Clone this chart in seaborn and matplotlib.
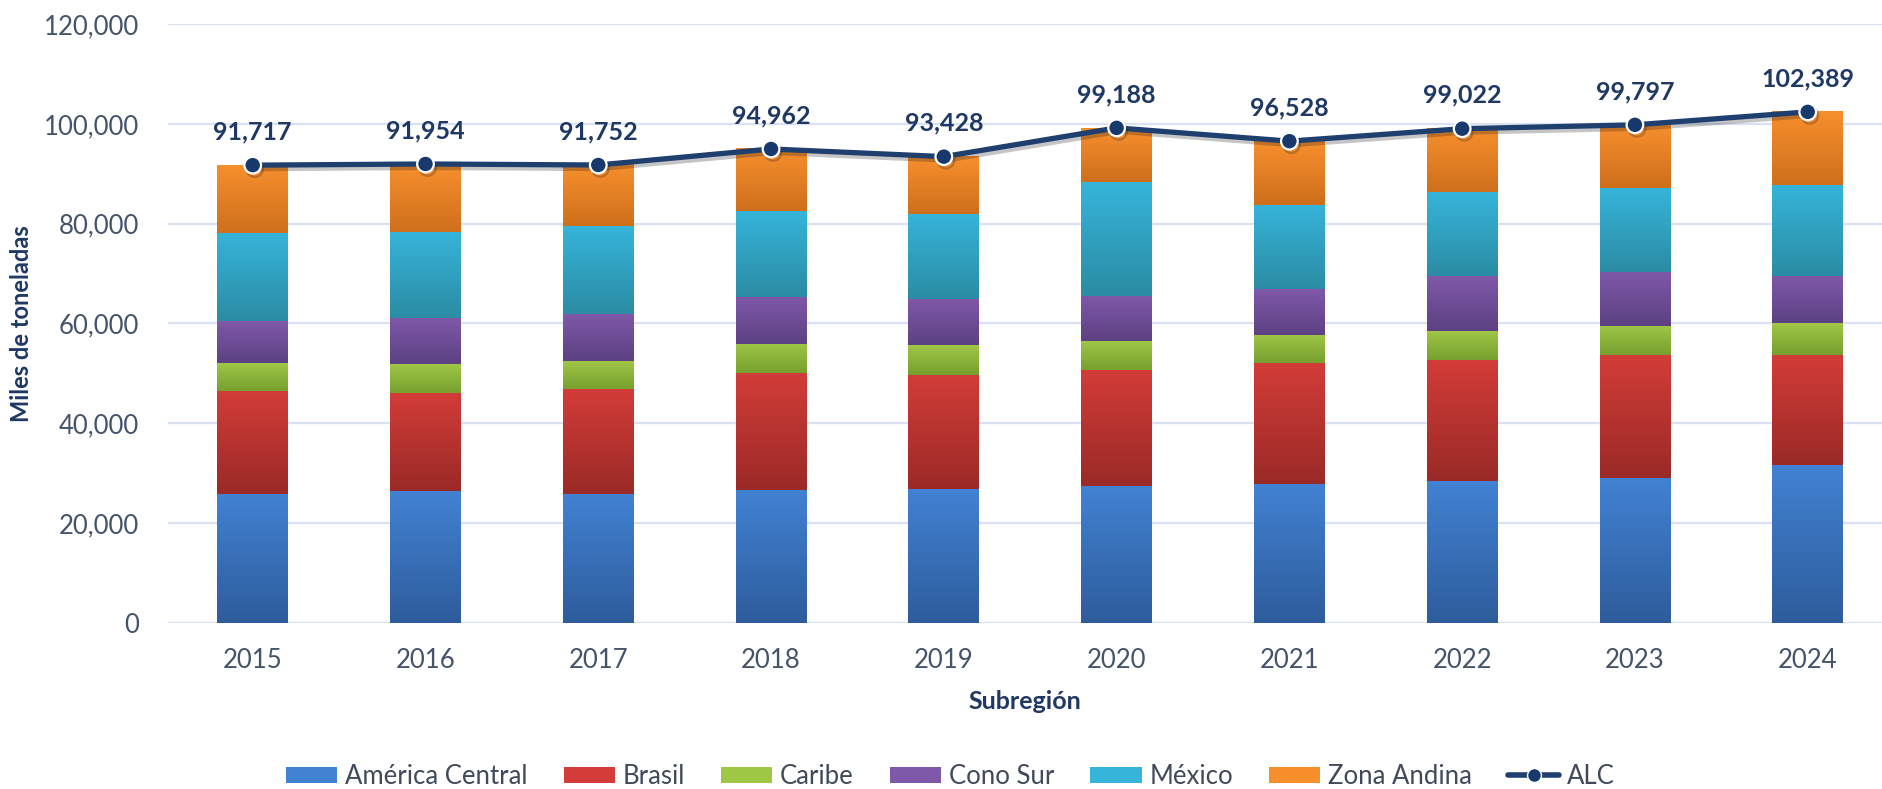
import numpy as np
import matplotlib
matplotlib.use("Agg")
import matplotlib.pyplot as plt
import matplotlib.patheffects as pe
from matplotlib.patches import Patch
from matplotlib.lines import Line2D
from matplotlib.colors import LinearSegmentedColormap
import seaborn as sns

# data (miles de toneladas)
years = ["2015", "2016", "2017", "2018", "2019", "2020", "2021", "2022", "2023", "2024"]
america_central = [25900, 26400, 25900, 26600, 26900, 27500, 27900, 28400, 29100, 31700]
brasil = [20500, 19700, 21000, 23400, 22700, 23200, 24100, 24300, 24500, 22000]
caribe = [5600, 5700, 5600, 5900, 6000, 5700, 5700, 5700, 5900, 6300]
cono_sur = [8400, 9300, 9500, 9500, 9300, 9200, 9200, 11200, 10900, 9600]
mexico = [17700, 17300, 17500, 17100, 17100, 22800, 16900, 16800, 16700, 18100]
zona_andina = [13617, 13554, 12252, 12462, 11428, 10788, 12728, 12622, 12697, 14689]
alc = [91717, 91954, 91752, 94962, 93428, 99188, 96528, 99022, 99797, 102389]

series = ["América Central", "Brasil", "Caribe", "Cono Sur", "México", "Zona Andina"]
values = [america_central, brasil, caribe, cono_sur, mexico, zona_andina]
# (top colour, bottom colour) for the vertical gradient of each segment
colors = [("#4282D3", "#2E5C9C"), ("#D33C38", "#9A2A27"), ("#A0C646", "#76A02F"),
          ("#8058A9", "#5C4183"), ("#36B4DA", "#2B8CA4"), ("#F78F2D", "#CF6F1C")]

sns.set_theme(style="white")
plt.rcParams["font.family"] = ["Lato", "DejaVu Sans"]

fig = plt.figure(figsize=(18.82, 7.89), dpi=100)
ax = fig.add_axes([0.0893, 0.2104, 0.9107, 0.7592])

cum = np.cumsum(np.array(values, dtype=float), axis=0)
bar_w = 0.41

# draw cumulative bars from the top layer down so lower layers cover upper ones
patches_by_layer = {}
for i in range(len(series) - 1, -1, -1):
    n_before = len(ax.patches)
    sns.barplot(x=years, y=cum[i], color=colors[i][0], width=bar_w,
                saturation=1, ax=ax, zorder=2, linewidth=0)
    patches_by_layer[i] = ax.patches[n_before:]

# gradient fill for each segment
for i in range(len(series)):
    cmap = LinearSegmentedColormap.from_list("g%d" % i, [colors[i][1], colors[i][0]])
    grad = np.linspace(0, 1, 256).reshape(-1, 1)
    lower = cum[i - 1] if i > 0 else np.zeros(len(years))
    for j, p in enumerate(patches_by_layer[i]):
        x0 = p.get_x()
        ax.imshow(grad, cmap=cmap, origin="lower", aspect="auto",
                  extent=(x0, x0 + p.get_width(), lower[j], cum[i][j]),
                  zorder=3 + i * 0.01, interpolation="bicubic")
        p.set_visible(False)

# total line
line_color = "#1F3F6E"
xpos = np.arange(len(years))
sns.lineplot(x=xpos, y=alc, ax=ax, color=line_color, linewidth=3.8, zorder=6,
             marker="o", markersize=12, markerfacecolor="#17396B",
             markeredgecolor="white", markeredgewidth=1.6,
             path_effects=[pe.SimpleLineShadow(offset=(1.5, -2.5), alpha=0.25), pe.Normal()])
for x, v in zip(xpos, alc):
    ax.annotate(f"{v:,}", (x, v), xytext=(0, 24), textcoords="offset points",
                ha="center", va="center", fontsize=18, fontweight="bold",
                color="#1F3864", zorder=7)

ax.set_xlim(-0.49, 9.43)
ax.set_ylim(0, 120000)
ax.set_yticks(np.arange(0, 120001, 20000))
ax.yaxis.set_major_formatter(matplotlib.ticker.FuncFormatter(lambda v, _: f"{int(v):,}"))
ax.grid(axis="y", color="#D9E1F2", linewidth=1.6, zorder=0)
ax.set_axisbelow(True)
for s in ax.spines.values():
    s.set_visible(False)
ax.tick_params(axis="both", length=0, labelsize=18.5, labelcolor="#44546A")
ax.tick_params(axis="y", pad=21)
ax.tick_params(axis="x", pad=18)

ax.set_ylabel("Miles de toneladas", fontsize=17, fontweight="bold", color="#1F3864")
ax.yaxis.set_label_coords(-0.079, 0.5)
ax.set_xlabel("Subregión", fontsize=18, fontweight="bold", color="#1F3864")
ax.xaxis.set_label_coords(0.5, -0.112)

handles = [Patch(facecolor=c[0], edgecolor="none") for c in colors]
handles.append(Line2D([0], [0], color=line_color, linewidth=4, marker="o",
                      markersize=10, markerfacecolor="#17396B", markeredgecolor="white"))
fig.legend(handles, series + ["ALC"], loc="center", bbox_to_anchor=(0.505, 0.016),
           ncol=7, frameon=False, fontsize=18.5, labelcolor="#404A5A",
           handlelength=2.0, handleheight=0.6, columnspacing=1.4, handletextpad=0.3)

fig.savefig("out.png", dpi=100)
